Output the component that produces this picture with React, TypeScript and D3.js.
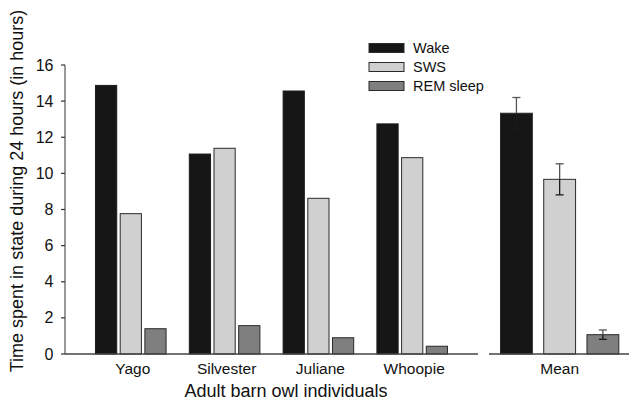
import React from "react";
import * as d3 from "d3";

const individuals = ["Yago", "Silvester", "Juliane", "Whoopie"];
const seriesNames = ["Wake", "SWS", "REM sleep"];
const wakeValues = [14.87, 11.07, 14.56, 12.74];
const swsValues = [7.77, 11.39, 8.62, 10.87];
const remValues = [1.4, 1.57, 0.9, 0.43];
const meanValues = [13.33, 9.67, 1.07];
const meanErrors = [0.87, 0.86, 0.26];
const yTicks = [0, 2, 4, 6, 8, 10, 12, 14, 16];
const meanLabel = "Mean";
const xTitle = "Adult barn owl individuals";
const yTitle = "Time spent in state during 24 hours (in hours)";

const colors = ["#161616", "#d0d0d0", "#7f7f7f"];
const font = "Liberation Sans, Arial, Helvetica, sans-serif";

export default function App() {
  const W = 629;
  const H = 409;
  const y = d3.scaleLinear().domain([0, 16]).range([354, 65]);
  const x0 = d3
    .scaleBand<string>()
    .domain(individuals)
    .range([65, 478])
    .paddingInner(0.237)
    .paddingOuter(0.32);
  const x1 = d3
    .scaleBand<string>()
    .domain(seriesNames)
    .range([0, x0.bandwidth()])
    .paddingInner(0.1);
  const xm = d3
    .scaleBand<string>()
    .domain(seriesNames)
    .range([500, 619.3])
    .paddingInner(0.24);

  const seriesData = [wakeValues, swsValues, remValues];

  return (
    <div style={{ position: "absolute", left: 0, top: 0 }}>
      <svg width={W} height={H} style={{ display: "block", background: "#fff" }} fontFamily={font}>
        {/* Individual bars */}
        {individuals.map((ind, i) => (
          <g key={ind} transform={`translate(${x0(ind)},0)`}>
            {seriesNames.map((s, k) => {
              const v = seriesData[k][i];
              return (
                <rect
                  key={s}
                  x={x1(s)! + 0.5}
                  y={y(v)}
                  width={x1.bandwidth() - 1}
                  height={y(0) - y(v)}
                  fill={colors[k]}
                  stroke={k === 0 ? "#1a1a1a" : "#2a2a2a"}
                  strokeWidth={1}
                />
              );
            })}
          </g>
        ))}
        {/* Mean bars */}
        {seriesNames.map((s, k) => {
          const v = meanValues[k];
          const cx = xm(s)! + xm.bandwidth() / 2;
          const e = meanErrors[k];
          return (
            <g key={s}>
              <rect
                x={xm(s)! + 0.5}
                y={y(v)}
                width={xm.bandwidth() - 1}
                height={y(0) - y(v)}
                fill={colors[k]}
                stroke="#2a2a2a"
                strokeWidth={1}
              />
              <line x1={cx} x2={cx} y1={y(v + e)} y2={y(v)} stroke="#555" strokeWidth={1.3} />
              <line x1={cx} x2={cx} y1={y(v)} y2={y(v - e)} stroke="#1a1a1a" strokeWidth={1.3} />
              <line x1={cx - 4} x2={cx + 4} y1={y(v + e)} y2={y(v + e)} stroke="#555" strokeWidth={1.3} />
              <line x1={cx - 4} x2={cx + 4} y1={y(v - e)} y2={y(v - e)} stroke="#1a1a1a" strokeWidth={1.3} />
            </g>
          );
        })}
        {/* Y axis */}
        <line x1={65} x2={65} y1={y(16)} y2={y(0)} stroke="#555" strokeWidth={1.2} />
        {yTicks.map((t) => (
          <g key={t}>
            <line x1={61} x2={65} y1={y(t)} y2={y(t)} stroke="#333" strokeWidth={1.2} />
            <text x={53.5} y={y(t)} dy="0.35em" textAnchor="end" fontSize={16} fill="#111">
              {t}
            </text>
          </g>
        ))}
        {/* X axes */}
        <line x1={65} x2={478} y1={y(0)} y2={y(0)} stroke="#444" strokeWidth={1.3} />
        <line x1={489} x2={629} y1={y(0)} y2={y(0)} stroke="#444" strokeWidth={1.3} />
        {individuals.map((ind) => (
          <text
            key={ind}
            x={x0(ind)! + x0.bandwidth() / 2 + 2}
            y={374}
            textAnchor="middle"
            fontSize={15.5}
            fill="#111"
          >
            {ind}
          </text>
        ))}
        <text x={xm(seriesNames[1])! + xm.bandwidth() / 2} y={374} textAnchor="middle" fontSize={15.5} fill="#111">
          {meanLabel}
        </text>
        {/* Axis titles */}
        <text x={286} y={397} textAnchor="middle" fontSize={18} fill="#111">
          {xTitle}
        </text>
        <text
          transform="translate(23,191) rotate(-90)"
          textAnchor="middle"
          fontSize={18}
          fill="#111"
        >
          {yTitle}
        </text>
        {/* Legend */}
        {seriesNames.map((s, k) => (
          <g key={s} transform={`translate(369,${43.5 + k * 19})`}>
            <rect x={0} y={0} width={35} height={9} fill={colors[k]} stroke="#2a2a2a" strokeWidth={1} />
            <text x={44} y={4.5} dy="0.35em" fontSize={14.5} fill="#111">
              {s}
            </text>
          </g>
        ))}
      </svg>
    </div>
  );
}
